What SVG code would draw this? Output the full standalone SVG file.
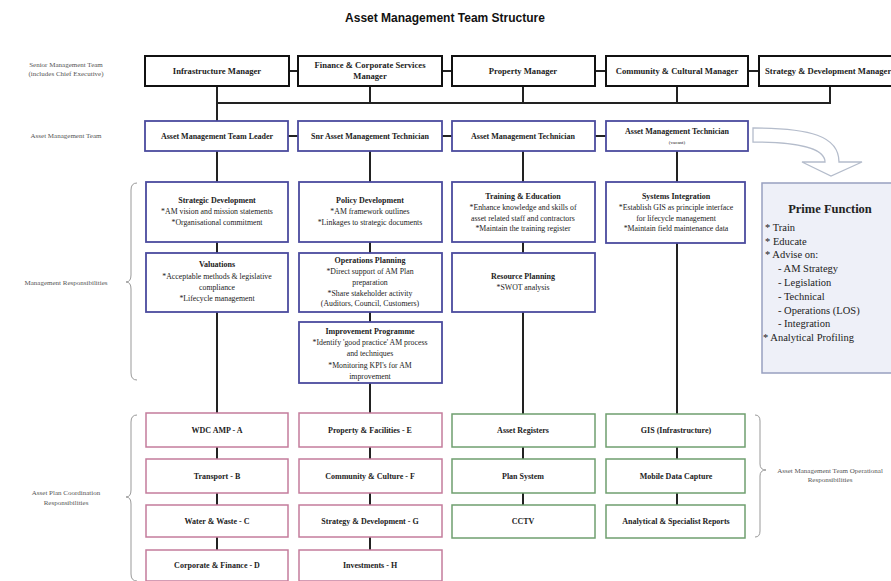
<svg xmlns="http://www.w3.org/2000/svg" width="891" height="581" viewBox="0 0 891 581">
<style>
text{font-family:"Liberation Serif","Times New Roman",serif;fill:#222;text-anchor:middle}
.title{font-family:"Liberation Sans",Arial,sans-serif;font-weight:bold;font-size:12px;fill:#111}
.h{font-size:8px;font-weight:bold}
.ht{font-size:8.6px;font-weight:bold}
.s{font-size:7.8px}
.lbl{font-size:7px;fill:#555}
.pf{font-size:10.5px;text-anchor:start}
.top{fill:#fff;stroke:#111;stroke-width:2}
.blue{fill:#fff;stroke:#4b4b9e;stroke-width:1.8}
.pink{fill:#fff;stroke:#c47c9c;stroke-width:1.5}
.green{fill:#fff;stroke:#6f9f6f;stroke-width:1.5}
.c{stroke:#222;stroke-width:2;fill:none}
.brace{fill:none;stroke:#999;stroke-width:1}
</style>
<rect width="891" height="581" fill="#fff"/>
<text class="title" x="445" y="22">Asset Management Team Structure</text>

<g id="labels">
<text class="lbl" x="66" y="67">Senior Management Team</text>
<text class="lbl" x="66" y="76">(includes Chief Executive)</text>
<text class="lbl" x="66" y="138">Asset Management Team</text>
<text class="lbl" x="66" y="285">Management Responsibilities</text>
<text class="lbl" x="66" y="495">Asset Plan Coordination</text>
<text class="lbl" x="66" y="505">Responsibilities</text>
<text class="lbl" x="830" y="473">Asset Management Team Operational</text>
<text class="lbl" x="830" y="482">Responsibilities</text>
<path class="brace" d="M137,183 Q131,183 131,190 L131,275 Q131,282 126,282 Q131,282 131,289 L131,373 Q131,380 137,380"/>
<path class="brace" stroke="#9a9" d="M137,415 Q131,415 131,422 L131,490 Q131,497 126,497 Q131,497 131,504 L131,574 Q131,581 137,581"/>
<path class="brace" d="M755,415 Q760,415 760,421 L760,464 Q760,470 766,470 Q760,470 760,476 L760,531 Q760,537 755,537"/>
</g>

<g id="connectors">
<path class="c" d="M289,71H298M442,71H452M595,71H606M748,71H759"/>
<path class="c" d="M217,86V121M370,86V103M523,86V103M677,86V103M830,86V103M216,103H831"/>
<path class="c" d="M288,136H298M442,136H452M595,136H606"/>
<path class="c" d="M217,151V182M217,242V253M217,312V413"/>
<path class="c" d="M370,151V182M370,242V253M370,312V322M370,383V413"/>
<path class="c" d="M523,151V182M523,242V253M523,312V414"/>
<path class="c" d="M677,151V182M677,243V414"/>
<path class="c" d="M217,447V459M217,493V505M217,537V550"/>
<path class="c" d="M370,447V459M370,493V505M370,537V550"/>
<path class="c" d="M523,447V459M523,493V505"/>
<path class="c" d="M677,447V459M677,493V505"/>
<path fill="#fff" stroke="#b4bccb" stroke-width="1.3" d="M753,128 C810,128 839,136 839,162 L862,162 L831,176 L802,162 L825,162 C825,149 800,142 753,142 Z"/>
</g>

<g id="n-infra"><rect class="top" x="145" y="56" width="144" height="30"/><text class="ht" x="217" y="74">Infrastructure Manager</text></g>
<g id="n-finance"><rect class="top" x="298" y="56" width="144" height="30"/><text class="ht" x="370" y="68">Finance &amp; Corporate Services</text><text class="ht" x="370" y="79">Manager</text></g>
<g id="n-property"><rect class="top" x="452" y="56" width="143" height="30"/><text class="ht" x="523" y="74">Property Manager</text></g>
<g id="n-community"><rect class="top" x="606" y="56" width="142" height="30"/><text class="ht" x="677" y="74">Community &amp; Cultural Manager</text></g>
<g id="n-strategy"><rect class="top" x="759" y="56" width="142" height="30"/><text class="ht" x="765" y="74" style="text-anchor:start">Strategy &amp; Development Manager</text></g>

<g id="n-leader"><rect class="blue" x="145" y="121" width="143" height="30"/><text class="h" x="217" y="139">Asset Management Team Leader</text></g>
<g id="n-snrtech"><rect class="blue" x="298" y="121" width="144" height="30"/><text class="h" x="370" y="139">Snr Asset Management Technician</text></g>
<g id="n-tech"><rect class="blue" x="452" y="121" width="143" height="30"/><text class="h" x="523" y="139">Asset Management Technician</text></g>
<g id="n-tech2"><rect class="blue" x="606" y="121" width="142" height="30"/><text class="h" x="677" y="134">Asset Management Technician</text><text x="677" y="144" style="font-size:5px">(vacant)</text></g>

<g id="n-strategic"><rect class="blue" x="146" y="182" width="142" height="60"/>
<text class="h" x="217" y="203">Strategic Development</text>
<text class="s" x="217" y="214">*AM vision and mission statements</text>
<text class="s" x="217" y="225">*Organisational commitment</text></g>
<g id="n-policy"><rect class="blue" x="299" y="182" width="143" height="60"/>
<text class="h" x="370" y="203">Policy Development</text>
<text class="s" x="370" y="214">*AM framework outlines</text>
<text class="s" x="370" y="225">*Linkages to strategic documents</text></g>
<g id="n-training"><rect class="blue" x="452" y="182" width="143" height="60"/>
<text class="h" x="523" y="199">Training &amp; Education</text>
<text class="s" x="523" y="210">*Enhance knowledge and skills of</text>
<text class="s" x="523" y="221">asset related staff and contractors</text>
<text class="s" x="523" y="231">*Maintain the training register</text></g>
<g id="n-systems"><rect class="blue" x="606" y="182" width="139" height="61"/>
<text class="h" x="676" y="199">Systems Integration</text>
<text class="s" x="676" y="210">*Establish GIS as principle interface</text>
<text class="s" x="676" y="221">for lifecycle management</text>
<text class="s" x="676" y="231">*Maintain field maintenance data</text></g>

<g id="n-valuations"><rect class="blue" x="146" y="253" width="142" height="59"/>
<text class="h" x="217" y="267">Valuations</text>
<text class="s" x="217" y="279">*Acceptable methods &amp; legislative</text>
<text class="s" x="217" y="290">compliance</text>
<text class="s" x="217" y="301">*Lifecycle management</text></g>
<g id="n-operations"><rect class="blue" x="299" y="253" width="143" height="59"/>
<text class="h" x="370" y="263">Operations Planning</text>
<text class="s" x="370" y="274">*Direct support of AM Plan</text>
<text class="s" x="370" y="285">preparation</text>
<text class="s" x="370" y="296">*Share stakeholder activity</text>
<text class="s" x="370" y="306">(Auditors, Council, Customers)</text></g>
<g id="n-resource"><rect class="blue" x="452" y="253" width="143" height="59"/>
<text class="h" x="523" y="279">Resource Planning</text>
<text class="s" x="523" y="290">*SWOT analysis</text></g>
<g id="n-improvement"><rect class="blue" x="299" y="322" width="143" height="61"/>
<text class="h" x="370" y="334">Improvement Programme</text>
<text class="s" x="370" y="345">*Identify 'good practice' AM process</text>
<text class="s" x="370" y="356">and techniques</text>
<text class="s" x="370" y="368">*Monitoring KPI's for AM</text>
<text class="s" x="370" y="379">improvement</text></g>

<g id="n-prime"><rect x="762" y="183" width="140" height="190" fill="#eef0f8" stroke="#98a0c0" stroke-width="1.5"/>
<text x="830" y="213" style="font-size:12.5px;font-weight:bold">Prime Function</text>
<text class="pf" x="765" y="231">* Train</text>
<text class="pf" x="765" y="245">* Educate</text>
<text class="pf" x="765" y="258">* Advise on:</text>
<text class="pf" x="778" y="272">- AM Strategy</text>
<text class="pf" x="778" y="286">- Legislation</text>
<text class="pf" x="778" y="300">- Technical</text>
<text class="pf" x="778" y="314">- Operations (LOS)</text>
<text class="pf" x="778" y="327">- Integration</text>
<text class="pf" x="763" y="341">* Analytical Profiling</text></g>

<g id="n-wdc"><rect class="pink" x="146" y="413" width="142" height="34"/><text class="h" x="217" y="433">WDC AMP - A</text></g>
<g id="n-transport"><rect class="pink" x="146" y="459" width="142" height="34"/><text class="h" x="217" y="479">Transport - B</text></g>
<g id="n-water"><rect class="pink" x="146" y="505" width="142" height="32"/><text class="h" x="217" y="524">Water &amp; Waste - C</text></g>
<g id="n-corporate"><rect class="pink" x="146" y="550" width="142" height="31"/><text class="h" x="217" y="568">Corporate &amp; Finance - D</text></g>
<g id="n-propfac"><rect class="pink" x="299" y="413" width="143" height="34"/><text class="h" x="370" y="433">Property &amp; Facilities - E</text></g>
<g id="n-commcult"><rect class="pink" x="299" y="459" width="143" height="34"/><text class="h" x="370" y="479">Community &amp; Culture - F</text></g>
<g id="n-stratdev"><rect class="pink" x="299" y="505" width="143" height="32"/><text class="h" x="370" y="524">Strategy &amp; Development - G</text></g>
<g id="n-invest"><rect class="pink" x="299" y="550" width="143" height="31"/><text class="h" x="370" y="568">Investments - H</text></g>

<g id="n-registers"><rect class="green" x="452" y="414" width="143" height="33"/><text class="h" x="523" y="433">Asset Registers</text></g>
<g id="n-plan"><rect class="green" x="452" y="459" width="143" height="34"/><text class="h" x="523" y="479">Plan System</text></g>
<g id="n-cctv"><rect class="green" x="452" y="505" width="143" height="33"/><text class="h" x="523" y="524">CCTV</text></g>
<g id="n-gis"><rect class="green" x="606" y="414" width="139" height="33"/><text class="h" x="676" y="433">GIS (Infrastructure)</text></g>
<g id="n-mobile"><rect class="green" x="606" y="459" width="139" height="34"/><text class="h" x="676" y="479">Mobile Data Capture</text></g>
<g id="n-analytical"><rect class="green" x="606" y="505" width="139" height="33"/><text class="h" x="676" y="524">Analytical &amp; Specialist Reports</text></g>
</svg>
